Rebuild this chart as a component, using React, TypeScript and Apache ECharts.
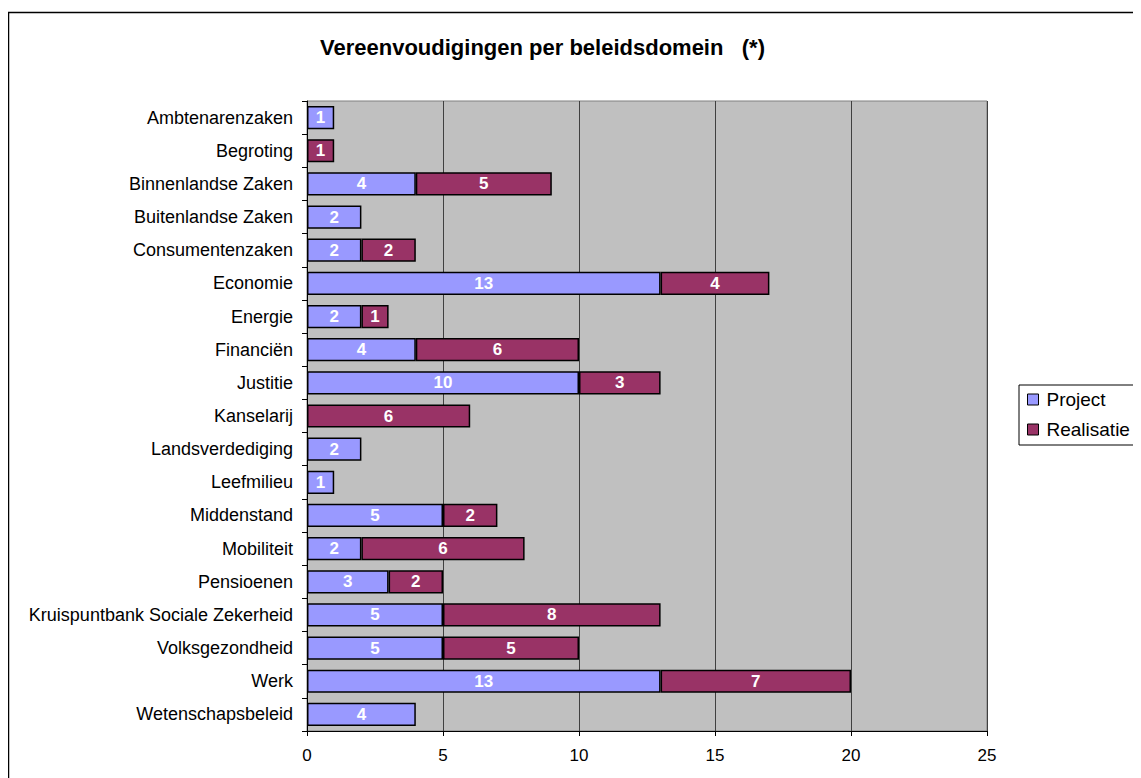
import React, { useEffect, useRef } from "react";
import * as echarts from "echarts";

const categories = [
  "Ambtenarenzaken",
  "Begroting",
  "Binnenlandse Zaken",
  "Buitenlandse Zaken",
  "Consumentenzaken",
  "Economie",
  "Energie",
  "Financiën",
  "Justitie",
  "Kanselarij",
  "Landsverdediging",
  "Leefmilieu",
  "Middenstand",
  "Mobiliteit",
  "Pensioenen",
  "Kruispuntbank Sociale Zekerheid",
  "Volksgezondheid",
  "Werk",
  "Wetenschapsbeleid",
];

const projectValues = [1, null, 4, 2, 2, 13, 2, 4, 10, null, 2, 1, 5, 2, 3, 5, 5, 13, 4];
const realisatieValues = [null, 1, 5, null, 2, 4, 1, 6, 3, 6, null, null, 2, 6, 2, 8, 5, 7, null];

const xTicks = { min: 0, max: 25, interval: 5 };
const titleText = "Vereenvoudigingen per beleidsdomein   (*)";
const seriesNames = ["Project", "Realisatie"];

const FONT = "'Liberation Sans', Arial, sans-serif";

export default function App() {
  const ref = useRef<HTMLDivElement>(null);

  useEffect(() => {
    document.documentElement.style.overflow = "hidden";
    const chart = echarts.init(ref.current!, null, { renderer: "svg" });
    const labelCfg = {
      show: true,
      position: "inside",
      color: "#fff",
      fontWeight: "bold",
      fontSize: 17,
      fontFamily: FONT,
    };
    chart.setOption({
      animation: false,
      backgroundColor: "#fff",
      textStyle: { fontFamily: FONT },
      title: {
        text: titleText,
        left: 312,
        top: 28,
        padding: 0,
        textStyle: { fontSize: 22, fontWeight: "bold", color: "#000", fontFamily: FONT },
      },
      legend: {
        orient: "vertical",
        left: 1011,
        top: 377,
        padding: [5, 40, 6, 8],
        itemGap: 11,
        itemWidth: 11,
        itemHeight: 11,
        icon: "rect",
        borderColor: "#000",
        borderWidth: 1,
        backgroundColor: "#fff",
        itemStyle: { borderColor: "#000", borderWidth: 1 },
        textStyle: { fontSize: 19, color: "#000", fontFamily: FONT, padding: [0, 0, 0, 3] },
        data: seriesNames,
      },
      graphic: [
        {
          type: "rect",
          shape: { x: 0.5, y: 4.5, width: 1300, height: 900 },
          style: { fill: "none", stroke: "#000", lineWidth: 1.5 },
          silent: true,
          z: -10,
        },
      ],
      grid: {
        left: 299,
        top: 93,
        width: 680,
        height: 630,
        show: true,
        backgroundColor: "#c0c0c0",
        borderColor: "#808080",
        borderWidth: 1,
        containLabel: false,
      },
      xAxis: {
        type: "value",
        min: xTicks.min,
        max: xTicks.max,
        interval: xTicks.interval,
        axisLine: { show: true, lineStyle: { color: "#000", width: 1 } },
        axisTick: { show: true, length: 5, lineStyle: { color: "#000" } },
        axisLabel: { fontSize: 17, color: "#000", margin: 16, fontFamily: FONT },
        splitLine: { show: true, lineStyle: { color: "#404040", width: 1 } },
      },
      yAxis: {
        type: "category",
        inverse: true,
        data: categories,
        axisLine: { show: true, lineStyle: { color: "#000", width: 1 } },
        axisTick: { show: true, length: 5, lineStyle: { color: "#000" } },
        axisLabel: { fontSize: 18, color: "#000", margin: 14, fontFamily: FONT },
        splitLine: { show: false },
      },
      series: [
        {
          name: seriesNames[0],
          type: "bar",
          stack: "total",
          barCategoryGap: "30%",
          data: projectValues,
          itemStyle: { color: "#9999ff", borderColor: "#000", borderWidth: 1.5 },
          label: labelCfg,
        },
        {
          name: seriesNames[1],
          type: "bar",
          stack: "total",
          barCategoryGap: "30%",
          data: realisatieValues,
          itemStyle: { color: "#993366", borderColor: "#000", borderWidth: 1.5 },
          label: labelCfg,
        },
      ],
    });
    return () => chart.dispose();
  }, []);

  return <div ref={ref} style={{ width: 1133, height: 770 }} />;
}
